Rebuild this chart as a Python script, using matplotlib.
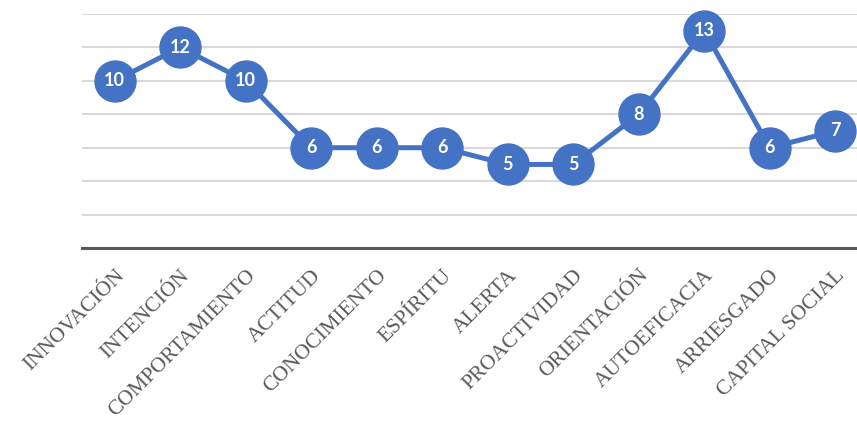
import matplotlib
matplotlib.use("Agg")
import matplotlib.pyplot as plt

categories = ["INNOVACIÓN", "INTENCIÓN", "COMPORTAMIENTO", "ACTITUD", "CONOCIMIENTO",
              "ESPÍRITU", "ALERTA", "PROACTIVIDAD", "ORIENTACIÓN", "AUTOEFICACIA",
              "ARRIESGADO", "CAPITAL SOCIAL"]
values = [10, 12, 10, 6, 6, 6, 5, 5, 8, 13, 6, 7]

fig = plt.figure(figsize=(8.57, 4.21), dpi=100)
ax = fig.add_axes([82/857, 1-248/421, (868-82)/857, (248-14)/421])

x = list(range(len(categories)))
ax.plot(x, values, color="#4472C4", lw=3.6, marker="o", markersize=29.5,
        markerfacecolor="#4472C4", markeredgecolor="#4472C4", zorder=3, clip_on=False)
for xi, v in zip(x, values):
    ax.text(xi, v, str(v), ha="center", va="center", color="white",
            fontsize=13, fontweight="bold", family="Lato", zorder=4)

ax.set_xlim(-0.5, len(categories)-0.5)
ax.set_ylim(0, 14)
ax.set_yticks(range(0, 15, 2))
ax.yaxis.grid(True, color="#d9d9d9", lw=1.5)
ax.set_axisbelow(True)
ax.tick_params(axis="y", left=False, labelleft=False)
ax.tick_params(axis="x", length=0, pad=13)
for s in ["top", "right", "left"]:
    ax.spines[s].set_visible(False)
ax.spines["bottom"].set_color("#595959")
ax.spines["bottom"].set_linewidth(2.2)
ax.spines["bottom"].set_zorder(2)

ax.set_xticks(x)
ax.set_xticklabels(categories, rotation=45, ha="right", va="top", rotation_mode="anchor",
                   family="Liberation Serif", fontsize=15.5, color="#595959")

fig.savefig("out.png", dpi=100)
